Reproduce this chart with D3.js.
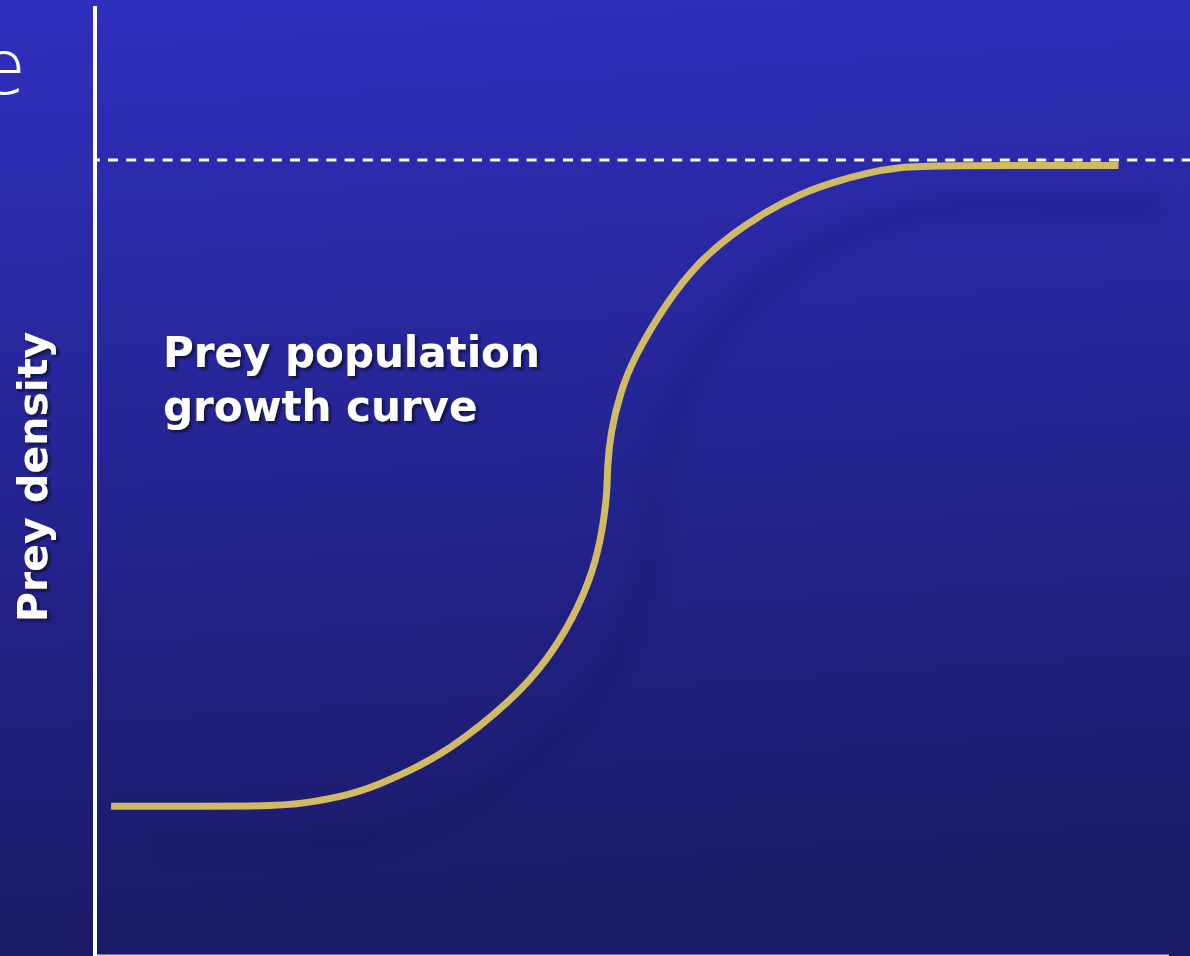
<!DOCTYPE html>
<html>
<head>
<meta charset="utf-8">
<script src="https://cdn.jsdelivr.net/npm/d3@7"></script>
<style>
  html, body { margin: 0; padding: 0; overflow: hidden; background: #1b1a68; }
  svg { display: block; }
</style>
</head>
<body>
<svg id="chart"></svg>
<script>
// Prey population growth curve (time, density), density 100 = carrying capacity
const timePoints = [1.5, 16.6, 19.1, 23.7, 26.5, 28.4, 32.8, 38.9, 42.1, 44.5, 46.4, 47.3, 47.7, 47.7,
    48.0, 48.9, 50.1, 53.3, 56.3, 59.4, 62.6, 65.6, 68.7, 71.9, 75.0, 78.0, 95.3];
const preyDensity = [18.7, 18.7, 19.0, 20.1, 21.5, 22.6, 25.5, 32.1, 37.1, 42.3, 48.2, 53.7, 58.5, 61.4,
    65.7, 70.7, 75.0, 82.3, 87.3, 90.8, 93.6, 95.7, 97.2, 98.4, 99.1, 99.3, 99.3];
const carryingCapacity = 100;

const yAxisLabel = "Prey density";
const curveLabel = ["Prey population", "growth curve"];
const cutLabel = "e"; // end of a word running off the left edge

const width = 1190,
    height = 956;

const svg = d3.select("#chart")
    .attr("width", width)
    .attr("height", height);

const defs = svg.append("defs");

// Background gradient, lighter blue on top
const bg = defs.append("linearGradient")
    .attr("id", "bg")
    .attr("x1", 0).attr("y1", 0)
    .attr("x2", 0.08).attr("y2", 1);
bg.append("stop").attr("offset", "0%").attr("stop-color", "#2f2fbe");
bg.append("stop").attr("offset", "55%").attr("stop-color", "#23238e");
bg.append("stop").attr("offset", "100%").attr("stop-color", "#1b1a66");

// Soft text shadow
const textShadow = defs.append("filter")
    .attr("id", "textShadow")
    .attr("x", "-10%").attr("y", "-20%")
    .attr("width", "130%").attr("height", "150%");
textShadow.append("feDropShadow")
    .attr("dx", 2.5).attr("dy", 2.5)
    .attr("stdDeviation", 1.2)
    .attr("flood-color", "#0b0a35")
    .attr("flood-opacity", 0.85);

// Blurry shadow under the curve
const curveBlur = defs.append("filter")
    .attr("id", "curveBlur")
    .attr("x", "-20%").attr("y", "-20%")
    .attr("width", "140%").attr("height", "140%");
curveBlur.append("feGaussianBlur").attr("stdDeviation", 11);

svg.append("rect")
    .attr("width", width)
    .attr("height", height)
    .attr("fill", "url(#bg)");

// Scales
const x = d3.scaleLinear().domain([0, 100]).range([95, 1169]);
const y = d3.scaleLinear().domain([0, 100]).range([955, 160]);

// B-spline through the read-off points keeps the S shape smooth
const growthLine = d3.line()
    .curve(d3.curveBasis)
    .x(function (d) { return x(d[0]); })
    .y(function (d) { return y(d[1]); });

const curveData = d3.zip(timePoints, preyDensity);

// Shadow of the curve
svg.append("path")
    .datum(curveData)
    .attr("d", growthLine)
    .attr("fill", "none")
    .attr("stroke", "#0c0b3a")
    .attr("stroke-opacity", 0.17)
    .attr("stroke-width", 18)
    .attr("transform", "translate(45,40)")
    .attr("filter", "url(#curveBlur)");

// Carrying capacity (dashed)
svg.append("line")
    .attr("x1", x(0) + 1)
    .attr("x2", width)
    .attr("y1", y(carryingCapacity))
    .attr("y2", y(carryingCapacity))
    .attr("stroke", "#ffffff")
    .attr("stroke-width", 3)
    .attr("stroke-dasharray", "10,8.2")
    .attr("stroke-dashoffset", 6.2);

// Axes
svg.append("line")
    .attr("x1", x(0)).attr("x2", x(0))
    .attr("y1", 6).attr("y2", height)
    .attr("stroke", "#ffffff")
    .attr("stroke-width", 4);

svg.append("line")
    .attr("x1", x(0) + 2).attr("x2", x(100))
    .attr("y1", height).attr("y2", height)
    .attr("stroke", "#d8d8f0")
    .attr("stroke-width", 3);

// The growth curve
svg.append("path")
    .datum(curveData)
    .attr("d", growthLine)
    .attr("fill", "none")
    .attr("stroke", "#d0ba64")
    .attr("stroke-width", 7)
    .attr("stroke-linecap", "butt");

// Labels
const labelFont = "'DejaVu Sans', Verdana, sans-serif";

svg.append("g")
    .attr("filter", "url(#textShadow)")
    .append("text")
    .attr("transform", "translate(47,622) rotate(-90)")
    .attr("font-family", labelFont)
    .attr("font-weight", "bold")
    .attr("font-size", 41)
    .attr("fill", "#ffffff")
    .text(yAxisLabel);

const note = svg.append("g")
    .attr("filter", "url(#textShadow)")
    .append("text")
    .attr("x", 163)
    .attr("y", 367)
    .attr("font-family", labelFont)
    .attr("font-weight", "bold")
    .attr("font-size", 42)
    .attr("fill", "#ffffff");

note.selectAll("tspan")
    .data(curveLabel)
    .join("tspan")
    .attr("x", 163)
    .attr("dy", function (d, i) { return i === 0 ? 0 : 54; })
    .text(function (d) { return d; });

svg.append("text")
    .attr("x", 26)
    .attr("y", 94)
    .attr("text-anchor", "end")
    .attr("font-family", labelFont)
    .attr("font-weight", 200)
    .attr("font-size", 77)
    .attr("fill", "#ffffff")
    .text(cutLabel);
</script>
</body>
</html>
